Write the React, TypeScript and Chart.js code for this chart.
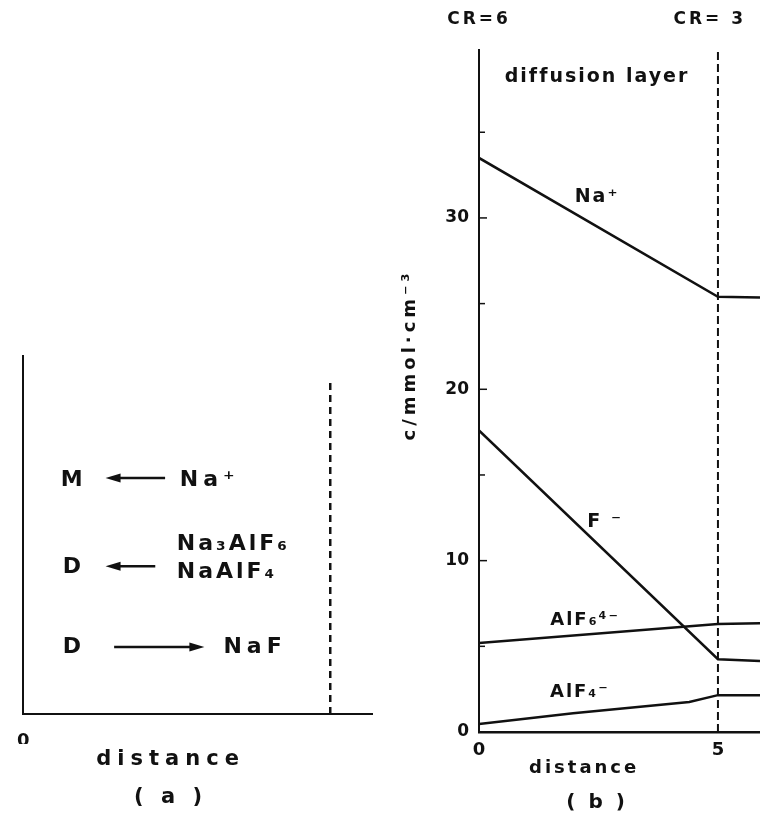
import React, { useEffect, useRef } from "react";
import { Chart, registerables } from "chart.js";

Chart.register(...registerables);

// ---------- data: panel (b) ----------
const naDist = [0, 5, 5.88];
const naConc = [33.5, 25.4, 25.35];
const fDist = [0, 5, 5.88];
const fConc = [17.6, 4.25, 4.15];
const alf6Dist = [0, 5, 5.88];
const alf6Conc = [5.2, 6.3, 6.35];
const alf4Dist = [0, 1.97, 4.4, 5, 5.88];
const alf4Conc = [0.47, 1.1, 1.75, 2.15, 2.15];
const boundaryB = 5;
const xTicksB = [0, 5];
const yTicksB = [0, 5, 10, 15, 20, 25, 30, 35];
const yLabelledB = [0, 10, 20, 30];

// ---------- data: panel (a) ----------
const boundaryA = 5;
const xTicksA = [0];

const INK = "#111";
const FONT = '"DejaVu Sans", sans-serif';

type Note = { t: string; x: number; y: number; size: number; align?: CanvasTextAlign; sp?: number; rot?: boolean };
type Arrow = { x1: number; x2: number; y: number };

const notesB: Note[] = [
  { t: "CR=6", x: 0, y: 41.6, size: 17, sp: 3 },
  { t: "CR= 3", x: 4.83, y: 41.6, size: 17, sp: 3 },
  { t: "diffusion layer", x: 2.47, y: 38.2, size: 19, sp: 2 },
  { t: "Na⁺", x: 2.47, y: 31.2, size: 19, sp: 2 },
  { t: "F ⁻", x: 2.64, y: 12.25, size: 19, sp: 2 },
  { t: "AlF₆⁴⁻", x: 2.22, y: 6.5, size: 18, sp: 2 },
  { t: "AlF₄⁻", x: 2.11, y: 2.3, size: 18, sp: 2 },
  { t: "c/mmol·cm⁻³", x: -1.44, y: 22.0, size: 18, sp: 4, rot: true },
  { t: "distance", x: 2.2, y: -2.1, size: 18, sp: 3 },
  { t: "( b )", x: 2.47, y: -4.15, size: 20, sp: 3 },
];

const notesA: Note[] = [
  { t: "M", x: 0.79, y: 6.54, size: 22 },
  { t: "Na⁺", x: 2.55, y: 6.54, size: 22, align: "left", sp: 5 },
  { t: "Na₃AlF₆", x: 2.5, y: 4.75, size: 22, align: "left", sp: 3 },
  { t: "D", x: 0.79, y: 4.11, size: 22 },
  { t: "NaAlF₄", x: 2.5, y: 3.95, size: 22, align: "left", sp: 3 },
  { t: "D", x: 0.79, y: 1.87, size: 22 },
  { t: "NaF", x: 3.26, y: 1.87, size: 22, align: "left", sp: 5 },
  { t: "distance", x: 2.4, y: -1.28, size: 21, sp: 6 },
  { t: "( a )", x: 2.4, y: -2.32, size: 21, sp: 5 },
];

const arrowsA: Arrow[] = [
  { x1: 2.31, x2: 1.34, y: 6.59 },
  { x1: 2.15, x2: 1.34, y: 4.13 },
  { x1: 1.48, x2: 2.95, y: 1.87 },
];

function drawNote(ctx: CanvasRenderingContext2D, n: Note, px: number, py: number) {
  ctx.save();
  ctx.font = `bold ${n.size}px ${FONT}`;
  (ctx as any).letterSpacing = `${n.sp || 0}px`;
  ctx.fillStyle = INK;
  ctx.textAlign = n.align || "center";
  ctx.textBaseline = "middle";
  ctx.translate(px, py);
  if (n.rot) ctx.rotate(-Math.PI / 2);
  ctx.fillText(n.t, 0, 0);
  ctx.restore();
}

function makeNotesPlugin(notes: Note[], arrows: Arrow[], inwardTicks: boolean) {
  return {
    id: "notes",
    afterDraw(chart: any) {
      const ctx: CanvasRenderingContext2D = chart.ctx;
      const xs = chart.scales.x;
      const ys = chart.scales.y;
      if (inwardTicks) {
        ctx.save();
        ctx.strokeStyle = INK;
        ctx.lineWidth = 1.5;
        const left = chart.chartArea.left;
        yTicksB.forEach((v) => {
          if (v === 0) return;
          const py = ys.getPixelForValue(v);
          const len = yLabelledB.includes(v) ? 8 : 6;
          ctx.beginPath();
          ctx.moveTo(left, py);
          ctx.lineTo(left + len, py);
          ctx.stroke();
        });
        ctx.restore();
      }
      notes.forEach((n) => drawNote(ctx, n, xs.getPixelForValue(n.x), ys.getPixelForValue(n.y)));
      arrows.forEach((a) => {
        const x1 = xs.getPixelForValue(a.x1);
        const x2 = xs.getPixelForValue(a.x2);
        const py = ys.getPixelForValue(a.y);
        const dir = x2 > x1 ? 1 : -1;
        const head = 15;
        ctx.save();
        ctx.strokeStyle = INK;
        ctx.fillStyle = INK;
        ctx.lineWidth = 2.5;
        ctx.beginPath();
        ctx.moveTo(x1, py);
        ctx.lineTo(x2 - dir * head * 0.7, py);
        ctx.stroke();
        ctx.beginPath();
        ctx.moveTo(x2, py);
        ctx.lineTo(x2 - dir * head, py - 4.5);
        ctx.lineTo(x2 - dir * head, py + 4.5);
        ctx.closePath();
        ctx.fill();
        ctx.restore();
      });
    },
  };
}

const pts = (xs: number[], ys: number[]) => xs.map((x, i) => ({ x, y: ys[i] }));

const lineDs = (label: string, data: { x: number; y: number }[]) => ({
  label,
  data,
  borderColor: INK,
  borderWidth: 2.5,
  pointRadius: 0,
  fill: false,
  tension: 0,
});

function PanelA() {
  const ref = useRef<HTMLCanvasElement>(null);
  useEffect(() => {
    const chart = new Chart(ref.current as HTMLCanvasElement, {
      type: "line",
      data: {
        datasets: [
          {
            label: "boundary",
            data: [
              { x: boundaryA, y: 0 },
              { x: boundaryA, y: 9.25 },
            ],
            borderColor: INK,
            borderWidth: 2.5,
            borderDash: [7, 5],
            pointRadius: 0,
          },
        ],
      },
      options: {
        animation: false,
        responsive: false,
        events: [],
        layout: { padding: { left: 0, top: 356, right: 8, bottom: 78 } },
        plugins: { legend: { display: false }, tooltip: { enabled: false } },
        scales: {
          x: {
            type: "linear",
            min: 0,
            max: 5.68,
            afterBuildTicks: (s: any) => {
              s.ticks = xTicksA.map((v) => ({ value: v }));
            },
            afterFit: (s: any) => {
              s.height = 30;
            },
            grid: { display: false, drawTicks: false },
            border: { display: true, color: INK, width: 2 },
            ticks: { color: INK, padding: 17, font: { family: FONT, weight: "bold", size: 18 } },
          },
          y: {
            type: "linear",
            min: 0,
            max: 10,
            afterBuildTicks: (s: any) => {
              s.ticks = [];
            },
            afterFit: (s: any) => {
              s.width = 20;
            },
            grid: { display: false, drawTicks: false },
            border: { display: true, color: INK, width: 2 },
            ticks: { display: false },
          },
        },
      } as any,
      plugins: [makeNotesPlugin(notesA, arrowsA, false)],
    });
    return () => chart.destroy();
  }, []);
  return <canvas ref={ref} width={380} height={822} style={{ position: "absolute", left: 0, top: 0, width: 380, height: 822 }} />;
}

function PanelB() {
  const ref = useRef<HTMLCanvasElement>(null);
  useEffect(() => {
    const chart = new Chart(ref.current as HTMLCanvasElement, {
      type: "line",
      data: {
        datasets: [
          lineDs("Na⁺", pts(naDist, naConc)),
          lineDs("F⁻", pts(fDist, fConc)),
          lineDs("AlF₆⁴⁻", pts(alf6Dist, alf6Conc)),
          lineDs("AlF₄⁻", pts(alf4Dist, alf4Conc)),
          {
            label: "boundary",
            data: [
              { x: boundaryB, y: 0 },
              { x: boundaryB, y: 39.8 },
            ],
            borderColor: INK,
            borderWidth: 2,
            borderDash: [8, 4],
            pointRadius: 0,
          },
        ],
      },
      options: {
        animation: false,
        responsive: false,
        events: [],
        layout: { padding: { left: 0, top: 50, right: 0, bottom: 40 } },
        plugins: { legend: { display: false }, tooltip: { enabled: false } },
        scales: {
          x: {
            type: "linear",
            min: 0,
            max: 5.88,
            afterBuildTicks: (s: any) => {
              s.ticks = xTicksB.map((v) => ({ value: v }));
            },
            afterFit: (s: any) => {
              s.height = 50;
            },
            grid: { display: false, drawTicks: false },
            border: { display: true, color: INK, width: 2.5 },
            ticks: { color: INK, padding: 8, font: { family: FONT, weight: "bold", size: 18 } },
          },
          y: {
            type: "linear",
            min: 0,
            max: 39.8,
            afterBuildTicks: (s: any) => {
              s.ticks = yTicksB.map((v) => ({ value: v }));
            },
            afterFit: (s: any) => {
              s.width = 99;
            },
            grid: { display: false, drawTicks: false },
            border: { display: true, color: INK, width: 2 },
            ticks: {
              color: INK,
              padding: 10,
              font: { family: FONT, weight: "bold", size: 17 },
              callback: (v: any) => (yLabelledB.includes(Number(v)) ? String(v) : ""),
            },
          },
        },
      } as any,
      plugins: [makeNotesPlugin(notesB, [], true)],
    });
    return () => chart.destroy();
  }, []);
  return <canvas ref={ref} width={380} height={822} style={{ position: "absolute", left: 380, top: 0, width: 380, height: 822 }} />;
}

export default function App() {
  return (
    <div style={{ position: "fixed", left: 0, top: 0, width: 760, height: 822, background: "#fff", overflow: "hidden" }}>
      <PanelA />
      <PanelB />
    </div>
  );
}
